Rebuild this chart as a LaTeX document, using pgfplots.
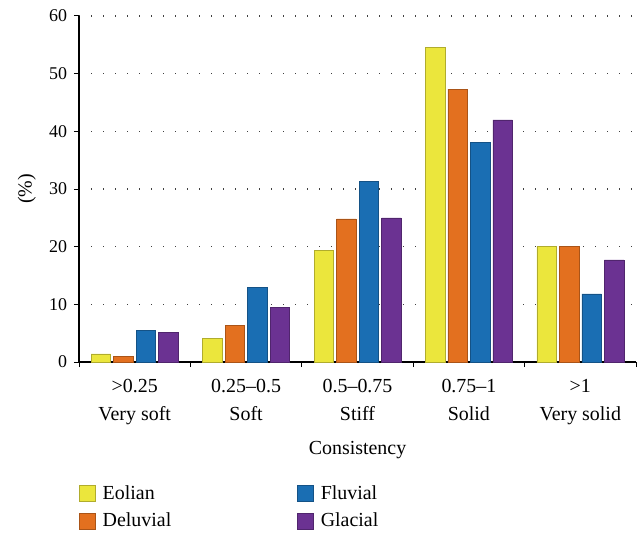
\documentclass[border=0pt]{standalone}
\usepackage{fontspec}
\setmainfont{Liberation Serif}
\usepackage{pgfplots}
\pgfplotsset{compat=1.18}
\definecolor{cEol}{HTML}{EBE63C}
\definecolor{cDel}{HTML}{E3701F}
\definecolor{cFlu}{HTML}{1A6EB3}
\definecolor{cGla}{HTML}{6B3292}
\begin{document}
\fontsize{20}{24}\selectfont
\begin{tikzpicture}
\begin{axis}[
  name=ax,
  scale only axis,
  width=557bp, height=346bp,
  ybar=3bp, bar width=19.5bp,
  xmin=-0.5, xmax=4.5,
  ymin=0, ymax=60,
  axis lines=left,
  axis line style={-, line width=1.4bp, black},
  xtick={-0.5,0.5,1.5,2.5,3.5,4.5},
  x tick label as interval,
  xticklabels={{>0.25\\Very soft},{0.25--0.5\\Soft},{0.5--0.75\\Stiff},{0.75--1\\Solid},{>1\\Very solid}},
  xticklabel style={align=center, font=\fontsize{20}{29}\selectfont, yshift=-5bp},
  ytick={0,10,...,60},
  yticklabel style={font=\fontsize{18}{21}\selectfont},
  /pgf/number format/assume math mode=true,
  tick align=outside,
  major tick length=5bp,
  tick style={black, line width=1bp},
  ymajorgrids,
  grid style={black!75, line width=1.3bp, dash pattern=on 1.3bp off 10.7bp},
  xlabel={Consistency},
  ylabel={(\%)},
  xlabel style={font=\fontsize{20}{24}\selectfont, yshift=-3bp},
  ylabel style={font=\fontsize{20}{24}\selectfont},
  ylabel shift=0bp,
  legend style={at={(0,-0.35)}, anchor=north west, draw=none, fill=none,
    font=\fontsize{20}{24}\selectfont, inner sep=0pt, row sep=7bp,
    /tikz/every even column/.append style={column sep=124bp},
    /tikz/every odd column/.append style={column sep=5bp}},
  legend columns=2,
  transpose legend,
  legend cell align=left,
  legend image code/.code={\draw[#1, line width=0.5bp] (0bp,-8bp) rectangle (16bp,8bp);},
]
\addplot[draw=cEol!75!black, line width=0.5bp, fill=cEol]
  coordinates {(0,1.4) (1,4.1) (2,19.4) (3,54.5) (4,20.0)};
\addlegendentry{Eolian}
\addplot[draw=cDel!75!black, line width=0.5bp, fill=cDel]
  coordinates {(0,1.0) (1,6.3) (2,24.8) (3,47.3) (4,20.1)};
\addlegendentry{Deluvial}
\addplot[draw=cFlu!75!black, line width=0.5bp, fill=cFlu]
  coordinates {(0,5.5) (1,13.0) (2,31.3) (3,38.1) (4,11.8)};
\addlegendentry{Fluvial}
\addplot[draw=cGla!75!black, line width=0.5bp, fill=cGla]
  coordinates {(0,5.2) (1,9.5) (2,25.0) (3,42.0) (4,17.7)};
\addlegendentry{Glacial}
\end{axis}
\path ([xshift=-79bp,yshift=-170bp]ax.south west) rectangle ([xshift=7bp,yshift=16bp]ax.north east);
\end{tikzpicture}
\end{document}
